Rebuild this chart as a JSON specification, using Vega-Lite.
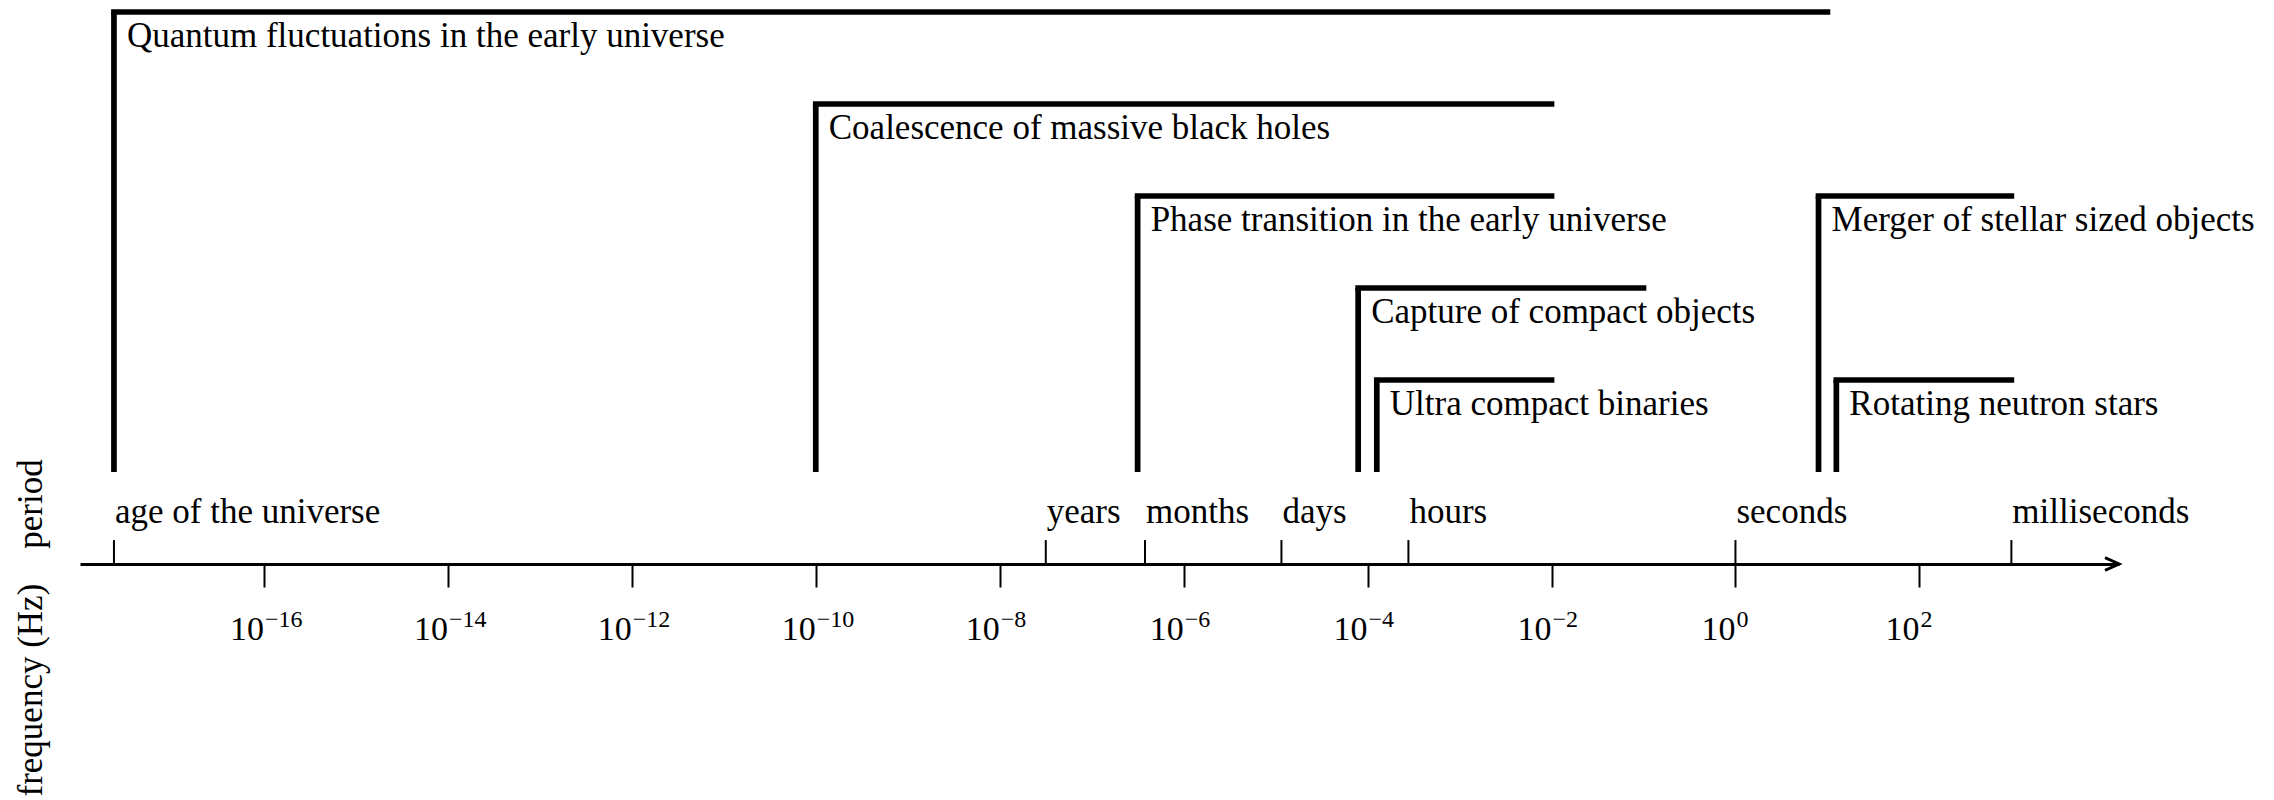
{
  "$schema": "https://vega.github.io/schema/vega-lite/v6.json",
  "width": 2039,
  "height": 552,
  "autosize": {"type": "none"},
  "padding": {"left": 80, "top": 12, "right": 155, "bottom": 236},
  "background": "white",
  "config": {"view": {"stroke": null}},
  "datasets": {
    "sources": [
      {"source": "Quantum fluctuations in the early universe", "fmin": 2.34e-18, "fmax": 10, "level": 6},
      {"source": "Coalescence of massive black holes", "fmin": 1e-10, "fmax": 0.01, "level": 5},
      {"source": "Phase transition in the early universe", "fmin": 3.16e-7, "fmax": 0.01, "level": 4},
      {"source": "Capture of compact objects", "fmin": 7.9e-5, "fmax": 0.1, "level": 3},
      {"source": "Ultra compact binaries", "fmin": 1.26e-4, "fmax": 0.01, "level": 2},
      {"source": "Merger of stellar sized objects", "fmin": 8, "fmax": 1000, "level": 4},
      {"source": "Rotating neutron stars", "fmin": 12.5, "fmax": 1000, "level": 2}
    ],
    "periods": [
      {"period": "age of the universe", "f": 2.34e-18},
      {"period": "years", "f": 3.17e-8},
      {"period": "months", "f": 3.8e-7},
      {"period": "days", "f": 1.157e-5},
      {"period": "hours", "f": 2.78e-4},
      {"period": "seconds", "f": 1},
      {"period": "milliseconds", "f": 1000}
    ],
    "decades": [
      {"f": 1e-16, "exp": "−16"},
      {"f": 1e-14, "exp": "−14"},
      {"f": 1e-12, "exp": "−12"},
      {"f": 1e-10, "exp": "−10"},
      {"f": 1e-8, "exp": "−8"},
      {"f": 1e-6, "exp": "−6"},
      {"f": 1e-4, "exp": "−4"},
      {"f": 1e-2, "exp": "−2"},
      {"f": 1, "exp": "0"},
      {"f": 100, "exp": "2"}
    ]
  },
  "layer": [
    {
      "data": {"name": "sources"},
      "mark": {"type": "rule", "color": "black", "strokeWidth": 5.7, "strokeCap": "butt"},
      "encoding": {
        "x": {
          "field": "fmin", "type": "quantitative",
          "scale": {"type": "log", "domain": [1e-18, 14800], "nice": false},
          "axis": {
            "title": null,
            "values": [1e-16, 1e-14, 1e-12, 1e-10, 1e-8, 1e-6, 1e-4, 1e-2, 1, 100],
            "grid": false, "labels": false,
            "domainColor": "black", "domainWidth": 3,
            "tickColor": "black", "tickWidth": 2, "tickSize": 23
          }
        },
        "y": {
          "field": "level", "type": "quantitative",
          "scale": {"domain": [0, 6], "nice": false, "zero": false},
          "axis": {
            "title": "frequency (Hz)\u00a0\u00a0\u00a0\u00a0period",
            "domain": false, "ticks": false, "labels": false, "grid": false,
            "titleAngle": 270, "titleAlign": "left", "titleBaseline": "alphabetic",
            "titleX": -39, "titleY": 784,
            "titleFont": "Liberation Serif", "titleFontSize": 35,
            "titleFontWeight": "normal", "titleColor": "black"
          }
        },
        "y2": {"datum": 1}
      }
    },
    {
      "data": {"name": "sources"},
      "mark": {"type": "rule", "color": "black", "strokeWidth": 5.7, "strokeCap": "square"},
      "encoding": {
        "x": {"field": "fmin", "type": "quantitative", "scale": {"type": "log", "domain": [1e-18, 14800], "nice": false}},
        "x2": {"field": "fmax"},
        "y": {"field": "level", "type": "quantitative", "scale": {"domain": [0, 6], "nice": false, "zero": false}}
      }
    },
    {
      "data": {"name": "sources"},
      "mark": {"type": "text", "color": "black", "font": "Liberation Serif", "fontSize": 35, "align": "left", "baseline": "alphabetic", "dx": 13, "dy": 35},
      "encoding": {
        "x": {"field": "fmin", "type": "quantitative", "scale": {"type": "log", "domain": [1e-18, 14800], "nice": false}},
        "y": {"field": "level", "type": "quantitative", "scale": {"domain": [0, 6], "nice": false, "zero": false}},
        "text": {"field": "source"}
      }
    },
    {
      "data": {"name": "periods"},
      "mark": {"type": "rule", "color": "black", "strokeWidth": 2},
      "encoding": {
        "x": {"field": "f", "type": "quantitative", "scale": {"type": "log", "domain": [1e-18, 14800], "nice": false}},
        "y": {"datum": 0, "type": "quantitative", "scale": {"domain": [0, 6], "nice": false, "zero": false}},
        "y2": {"datum": 0.26}
      }
    },
    {
      "data": {"name": "periods"},
      "mark": {"type": "text", "color": "black", "font": "Liberation Serif", "fontSize": 35, "align": "left", "baseline": "alphabetic", "dx": 1, "dy": -41},
      "encoding": {
        "x": {"field": "f", "type": "quantitative", "scale": {"type": "log", "domain": [1e-18, 14800], "nice": false}},
        "y": {"datum": 0, "type": "quantitative", "scale": {"domain": [0, 6], "nice": false, "zero": false}},
        "text": {"field": "period"}
      }
    },
    {
      "data": {"name": "decades"},
      "mark": {"type": "text", "color": "black", "font": "Liberation Serif", "fontSize": 34, "align": "right", "baseline": "alphabetic", "dx": 0, "dy": 76},
      "encoding": {
        "x": {"field": "f", "type": "quantitative", "scale": {"type": "log", "domain": [1e-18, 14800], "nice": false}},
        "y": {"datum": 0, "type": "quantitative", "scale": {"domain": [0, 6], "nice": false, "zero": false}},
        "text": {"value": "10"}
      }
    },
    {
      "data": {"name": "decades"},
      "mark": {"type": "text", "color": "black", "font": "Liberation Serif", "fontSize": 24, "align": "left", "baseline": "alphabetic", "dx": 1, "dy": 63},
      "encoding": {
        "x": {"field": "f", "type": "quantitative", "scale": {"type": "log", "domain": [1e-18, 14800], "nice": false}},
        "y": {"datum": 0, "type": "quantitative", "scale": {"domain": [0, 6], "nice": false, "zero": false}},
        "text": {"field": "exp"}
      }
    },
    {
      "data": {"values": [{"f": 14800}]},
      "mark": {"type": "point", "shape": "M -1 -0.45 L 0 0 L -1 0.45", "filled": false, "stroke": "black", "strokeWidth": 3, "size": 784, "opacity": 1, "strokeJoin": "miter"},
      "encoding": {
        "x": {"field": "f", "type": "quantitative", "scale": {"type": "log", "domain": [1e-18, 14800], "nice": false}},
        "y": {"datum": 0, "type": "quantitative", "scale": {"domain": [0, 6], "nice": false, "zero": false}}
      }
    }
  ]
}
